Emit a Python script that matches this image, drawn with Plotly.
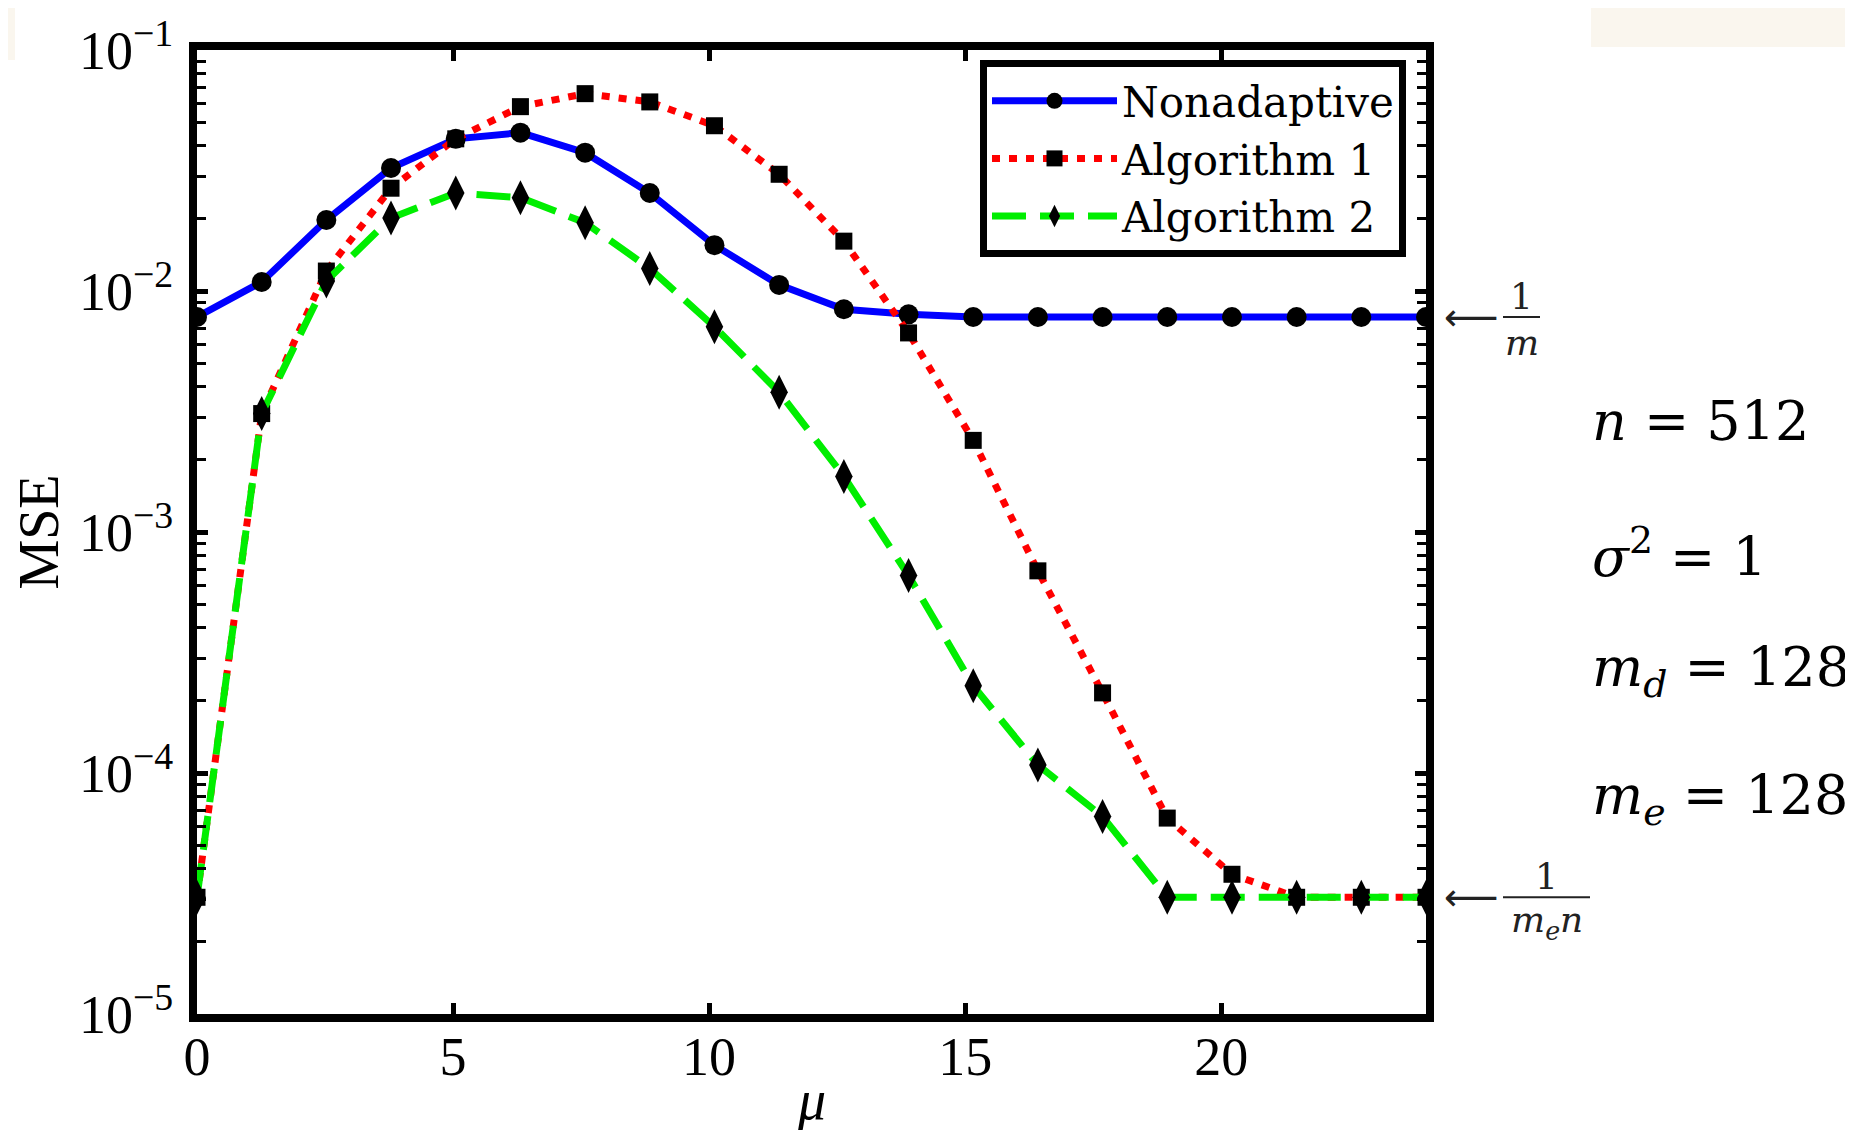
import numpy as np
import plotly.graph_objects as go

# ---------------- data ----------------
mu = [0.0, 1.263, 2.526, 3.789, 5.053, 6.316, 7.579, 8.842, 10.105, 11.368,
      12.632, 13.895, 15.158, 16.421, 17.684, 18.947, 20.211, 21.474, 22.737, 24.0]

nonadaptive = [0.0078, 0.0109, 0.0197, 0.0324, 0.0428, 0.0454, 0.0375, 0.0255,
               0.0155, 0.0106, 0.0084, 0.0080, 0.0078, 0.0078, 0.0078, 0.0078,
               0.0078, 0.0078, 0.0078, 0.0078]

algorithm1 = [3.05e-5, 0.0031, 0.0121, 0.0267, 0.0428, 0.0582, 0.0659, 0.0609,
              0.0485, 0.0305, 0.0161, 0.0067, 0.0024, 0.00069, 0.000215, 6.5e-5,
              3.8e-5, 3.05e-5, 3.05e-5, 3.05e-5]

algorithm2 = [3.05e-5, 0.0031, 0.0110, 0.0201, 0.0255, 0.0244, 0.0192, 0.0124,
              0.0071, 0.0038, 0.0017, 0.00066, 0.00023, 0.000108, 6.6e-5, 3.05e-5,
              3.05e-5, 3.05e-5, 3.05e-5, 3.05e-5]

series_names = ["Nonadaptive", "Algorithm 1", "Algorithm 2"]

x_tick_vals = [0, 5, 10, 15, 20]
y_tick_vals = [1e-5, 1e-4, 1e-3, 1e-2, 1e-1]
y_tick_text = ["10<sup>−5</sup>", "10<sup>−4</sup>", "10<sup>−3</sup>",
               "10<sup>−2</sup>", "10<sup>−1</sup>"]
y_minor_vals = [k * 10.0 ** e for e in range(-5, -1) for k in range(2, 10)]

level_inv_m = nonadaptive[-1]
level_inv_men = algorithm2[-1]

params = ["<i>n</i> = 512", "<i>σ</i><sup>2</sup> = 1",
          "<i>m<sub>d</sub></i> = 128", "<i>m<sub>e</sub></i> = 128"]

# ---------------- figure ----------------
TICK_FONT = "Liberation Serif"
TEX_FONT = "DejaVu Serif"
OFF = 8  # page body margin of the written html

fig = go.Figure()

fig.add_trace(go.Scatter(
    x=mu, y=nonadaptive, name=series_names[0], mode="lines+markers",
    line=dict(color="#0000FF", width=7),
    marker=dict(symbol="circle", size=20, color="black"),
))
fig.add_trace(go.Scatter(
    x=mu, y=algorithm1, name=series_names[1], mode="lines+markers",
    line=dict(color="#FF0000", width=7, dash="8px,9px"),
    marker=dict(symbol="square", size=17, color="black"),
))
fig.add_trace(go.Scatter(
    x=mu, y=algorithm2, name=series_names[2], mode="lines+markers",
    line=dict(color="#00EE00", width=7, dash="34px,14px"),
    marker=dict(symbol="diamond-tall", size=25, color="black"),
))

W, H = 1853, 1130
# target screen coordinates of the plot frame
L, R, T, B = 197 - OFF, 1426 - OFF, 50 - OFF, 1014 - OFF
pw, ph = R - L, B - T


def px(xs):
    return (xs - OFF - L) / pw


def py(ys):
    return (B - (ys - OFF)) / ph


axis_common = dict(
    showline=True, linecolor="black", linewidth=8, mirror="allticks",
    ticks="inside", tickcolor="black", ticklen=11, tickwidth=5,
    showgrid=False, zeroline=False,
    tickfont=dict(family=TICK_FONT, size=54, color="black"),
)

fig.update_xaxes(
    range=[0, 24], tickvals=x_tick_vals, ticklabelstandoff=-12,
    **axis_common,
)
fig.update_yaxes(
    type="log", range=[-5, -1], tickvals=y_tick_vals, ticktext=y_tick_text,
    ticklabelstandoff=5,
    minor=dict(tickmode="array", tickvals=y_minor_vals, ticks="inside",
               ticklen=9, tickwidth=3, tickcolor="black", showgrid=False),
    title=dict(text="MSE", font=dict(family=TICK_FONT, size=56, color="black"),
               standoff=18),
    **axis_common,
)

annotations = []
# x-axis title
annotations.append(dict(
    xref="paper", yref="paper", x=0.5, y=py(1100), text="<i>μ</i>",
    showarrow=False, xanchor="center", yanchor="middle",
    font=dict(family=TICK_FONT, size=56, color="black"),
))
# parameter text on the right
param_y = [422, 553, 671, 799]
for txt, yp in zip(params, param_y):
    annotations.append(dict(
        xref="paper", yref="paper", x=px(1590), y=py(yp), text=txt,
        showarrow=False, xanchor="left", yanchor="middle",
        font=dict(family=TEX_FONT, size=54, color="black"),
    ))

# arrows and fractions for reference levels
for level, num, den, bar_end in [
    (level_inv_m, "1", "<i>m</i>", 1540),
    (level_inv_men, "1", "<i>m<sub>e</sub>n</i>", 1590),
]:
    ly = float(np.log10(level))
    annotations.append(dict(
        xref="paper", yref="y", x=px(1442), y=ly, text="⟵", showarrow=False,
        xanchor="left", yanchor="middle",
        font=dict(family="DejaVu Sans", size=38, color="#222222"),
    ))
    cx = px((1503 + bar_end) / 2)
    annotations.append(dict(
        xref="paper", yref="y", x=cx, y=ly, yshift=21, text=num, showarrow=False,
        xanchor="center", yanchor="middle",
        font=dict(family=TEX_FONT, size=36, color="#222222"),
    ))
    annotations.append(dict(
        xref="paper", yref="y", x=cx, y=ly, yshift=-25, text=den, showarrow=False,
        xanchor="center", yanchor="middle",
        font=dict(family=TEX_FONT, size=36, color="#222222"),
    ))
    fig.add_shape(type="line", xref="paper", yref="y", x0=px(1503), x1=px(bar_end),
                  y0=level, y1=level, line=dict(color="#222222", width=2))

# faint page-edge tint seen in the reference screenshot
for x0, x1, y0, y1 in [(0, W, 0, 5), (0, 15, 0, 60), (1591, W, 0, 47)]:
    fig.add_shape(type="rect", xref="paper", yref="paper", layer="below",
                  x0=px(x0), x1=px(x1), y0=py(y1), y1=py(y0),
                  fillcolor="#FAF6EE", line=dict(width=0))

fig.update_layout(
    width=W, height=H,
    margin=dict(l=L, r=W - R, t=T, b=H - B, autoexpand=False),
    paper_bgcolor="white", plot_bgcolor="white",
    showlegend=True,
    legend=dict(
        x=px(1406), y=py(60), xanchor="right", yanchor="top",
        bgcolor="white", bordercolor="black", borderwidth=7,
        font=dict(family=TEX_FONT, size=42, color="black"),
        itemwidth=125, tracegroupgap=0,
    ),
    annotations=annotations,
)

fig.write_html("out.html")
